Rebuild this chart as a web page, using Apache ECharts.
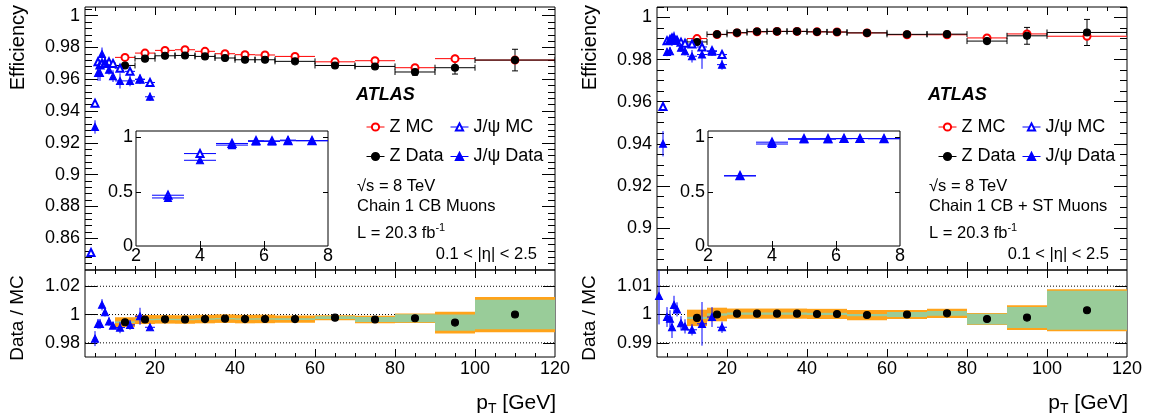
<!DOCTYPE html>
<html><head><meta charset="utf-8">
<script src="https://cdn.jsdelivr.net/npm/echarts@6/dist/echarts.min.js"></script>
<style>html,body{margin:0;padding:0;background:#fff}#c{width:1153px;height:419px}</style>
</head><body><div id="c"></div>
<script>
// ---------------- DATA ----------------
const zPt = [12.5,17.5,22.5,27.5,32.5,37.5,42.5,47.5,55,65,75,85,95,110];
const zLo = [10,15,20,25,30,35,40,45,50,60,70,80,90,100];
const zHi = [15,20,25,30,35,40,45,50,60,70,80,90,100,120];
const jpsiPt = [4,5,5.75,6.25,6.75,7.5,8.5,9.5,11.25,13.75,16.25,18.75];
const jpsiLo = [3.5,4.5,5.5,6,6.5,7,8,9,10,12.5,15,17.5];
const jpsiHi = [4.5,5.5,6,6.5,7,8,9,10,12.5,15,17.5,20];
const insetPt = [3,4,5,5.75,6.25,6.75,7.5];
const insetLo = [2.5,3.5,4.5,5.5,6,6.5,7];
const insetHi = [3.5,4.5,5.5,6,6.5,7,8];

// Left panel: Chain 1 CB Muons
const cbZMC      = [0.9738,0.9765,0.9782,0.9786,0.9776,0.9761,0.9755,0.9753,0.9744,0.9710,0.9717,0.9673,0.9730,0.9721];
const cbZMCErr   = [0.0006,0.0005,0.0004,0.0004,0.0004,0.0004,0.0005,0.0005,0.0005,0.0008,0.0010,0.0015,0.0026,0.0020];
const cbZData    = [0.9687,0.9730,0.9748,0.9750,0.9744,0.9734,0.9723,0.9723,0.9713,0.9687,0.9681,0.9646,0.9673,0.9721];
const cbZDataErr = [0.0012,0.0008,0.0005,0.0005,0.0005,0.0005,0.0006,0.0006,0.0007,0.0010,0.0015,0.0020,0.0040,0.0068];
const cbJpsiMC      = [0.851,0.945,0.971,0.969,0.970,0.970,0.971,0.970,0.967,0.965,0.960,0.958];
const cbJpsiMCErr   = [0.002,0.0015,0.0015,0.0015,0.0015,0.0015,0.0015,0.0015,0.0015,0.002,0.002,0.002];
const cbJpsiData    = [null,0.930,0.964,0.964,0.976,0.971,0.966,0.962,0.959,0.959,0.960,0.949];
const cbJpsiDataErr = [0,0.0042,0.005,0.005,0.004,0.003,0.003,0.0037,0.0048,0.0034,0.003,0.0026];
const cbZRatio   = [0.9946,0.9965,0.9966,0.9965,0.9968,0.9971,0.9968,0.9969,0.9968,0.9978,0.9965,0.9974,0.9943,1.0000];
const cbBandTot  = [0.0035,0.0032,0.0030,0.0030,0.0030,0.0030,0.0030,0.0030,0.0026,0.0018,0.0027,0.0033,0.0077,0.0125];
const cbBandStat = [0.0006,0.0005,0.0005,0.0005,0.0005,0.0005,0.0005,0.0005,0.0006,0.0010,0.0018,0.0028,0.0057,0.0104];
const cbJpsiRatioPt  = [5,5.75,6.25,6.75,7.5,8.5,9.5,11.25,13.75,16.25,18.75];
const cbJpsiRatioLo  = [4.5,5.5,6,6.5,7,8,9,10,12.5,15,17.5];
const cbJpsiRatioHi  = [5.5,6,6.5,7,8,9,10,12.5,15,17.5,20];
const cbJpsiRatio    = [0.983,0.9934,0.9934,1.0069,1.0016,0.9951,0.9922,0.9908,0.9927,0.9988,0.9910];
const cbJpsiRatioErr = [0.0053,0.0035,0.0035,0.004,0.003,0.003,0.0025,0.004,0.0035,0.006,0.0022];
const cbInsetMC   = [0.468,0.852,0.945,0.971,0.969,0.970,0.970];
const cbInsetData = [0.443,0.790,0.930,0.964,0.964,0.976,0.971];

// Right panel: Chain 1 CB + ST Muons
const stZMC      = [0.9900,0.9919,0.9927,0.9932,0.9934,0.9934,0.9932,0.9931,0.9927,0.9918,0.9918,0.9903,0.9922,0.9911];
const stZMCErr   = [0.0004,0.0003,0.0003,0.0003,0.0003,0.0003,0.0003,0.0003,0.0003,0.0005,0.0006,0.0008,0.0010,0.0012];
const stZData    = [0.9884,0.9920,0.9928,0.9933,0.9934,0.9934,0.9932,0.9931,0.9927,0.9920,0.9921,0.9888,0.9913,0.9929];
const stZDataErr = [0.0008,0.0004,0.0003,0.0003,0.0003,0.0003,0.0003,0.0004,0.0004,0.0006,0.0008,0.0012,0.0040,0.0062];
const stJpsiMC      = [0.9577,0.9890,0.9896,0.9903,0.9898,0.9892,0.9883,0.9878,0.9874,0.9860,0.9842,0.9824];
const stJpsiMCErr   = [0.0015,0.001,0.001,0.001,0.001,0.001,0.001,0.001,0.0012,0.0015,0.0015,0.0015];
const stJpsiData    = [0.9400,0.9836,0.9840,0.9890,0.9908,0.9890,0.9856,0.9840,0.9816,0.9824,0.9838,0.9776];
const stJpsiDataErr = [0.006,0.002,0.002,0.0025,0.0025,0.002,0.002,0.002,0.003,0.0068,0.002,0.0024];
const stZRatio   = [0.9988,1.0000,1.0003,1.0003,1.0003,1.0003,1.0002,1.0002,0.9998,1.0000,1.0004,0.9984,0.9989,1.0015];
const stBandTot  = [0.0029,0.0024,0.0018,0.0018,0.0018,0.0018,0.0018,0.0018,0.0018,0.0016,0.0016,0.0021,0.0044,0.0074];
const stBandStat = [0.0004,0.0004,0.0004,0.0004,0.0004,0.0004,0.0004,0.0004,0.0004,0.0009,0.0008,0.0019,0.0037,0.0069];
const stJpsiRatioPt  = [3,5,5.75,6.25,6.75,7.5,8.5,9.5,11.25,13.75,16.25,18.75];
const stJpsiRatioLo  = [2.5,4.5,5.5,6,6.5,7,8,9,10,12.5,15,17.5];
const stJpsiRatioHi  = [3.5,5.5,6,6.5,7,8,9,10,12.5,15,17.5,20];
const stJpsiRatio    = [1.0065,0.9991,0.9985,0.9955,1.0034,1.0018,0.9969,0.9958,0.9946,0.9967,0.9991,0.9955];
const stJpsiRatioErr = [0.010,0.0035,0.003,0.0038,0.0032,0.0025,0.0025,0.0025,0.002,0.0077,0.0035,0.002];
const stInsetMC   = [0.648,0.957,0.989,0.9896,0.9903,0.9898,0.9892];
const stInsetData = [0.646,0.940,0.9836,0.984,0.989,0.9908,0.989];

// Tick labels
const xTickLabels   = [20,40,60,80,100,120];
const xMajorTicks   = [20,40,60,80,100];
const xMinorTicks   = [5,10,15,25,30,35,45,50,55,65,70,75,85,90,95,105,110,115];
const cbYLabels     = [0.86,0.88,0.9,0.92,0.94,0.96,0.98,1];
const stYLabels     = [0.9,0.92,0.94,0.96,0.98,1];
const cbRatioLabels = [0.98,1,1.02];
const stRatioLabels = [0.99,1,1.01];
const insetXLabels  = [2,4,6,8];
const insetYLabels  = [0,0.5,1];

// ---------------- BUILD ----------------
const FONT = '"Liberation Sans", Arial, Helvetica, sans-serif';
const grids = [], xAxes = [], yAxes = [], series = [], legends = [], graphics = [];

function minorTicks(lo, hi, step, major) {
  const out = [];
  for (let v = lo; v <= hi + 1e-9; v += step) {
    const r = +v.toFixed(4);
    if (Math.abs(r / major - Math.round(r / major)) > 1e-6) out.push(r);
  }
  return out;
}
function mkAxis(gi, pos, range, ticks, len, labels, margin) {
  return {
    type: 'value', gridIndex: gi, position: pos, min: range[0], max: range[1],
    axisLine: { show: false }, splitLine: { show: false },
    axisTick: { show: ticks.length > 0, inside: true, length: len, customValues: ticks, lineStyle: { color: '#000', width: 1 } },
    axisLabel: labels ? { show: true, customValues: labels, color: '#000', fontSize: 18, fontFamily: FONT, margin: margin,
      formatter: v => String(+(+v).toFixed(4)) } : { show: false }
  };
}
function frame(grid, xr, yr, o) {
  const gi = grids.length;
  grids.push(Object.assign({ show: true, borderColor: '#000', borderWidth: 1, backgroundColor: o.bg || 'rgba(0,0,0,0)' }, grid));
  const xi = xAxes.length, yi = yAxes.length;
  xAxes.push(mkAxis(gi, 'bottom', xr, o.xMaj, o.lxMaj, o.xLab, o.xm));
  xAxes.push(mkAxis(gi, 'top', xr, o.xMaj, o.lxMaj, null));
  if (o.xMin) { xAxes.push(mkAxis(gi, 'bottom', xr, o.xMin, o.lxMin, null)); xAxes.push(mkAxis(gi, 'top', xr, o.xMin, o.lxMin, null)); }
  yAxes.push(mkAxis(gi, 'left', yr, o.yMaj, o.lyMaj, o.yLab, o.ym));
  yAxes.push(mkAxis(gi, 'right', yr, o.yMaj, o.lyMaj, null));
  if (o.yMin) { yAxes.push(mkAxis(gi, 'left', yr, o.yMin, o.lyMin, null)); yAxes.push(mkAxis(gi, 'right', yr, o.yMin, o.lyMin, null)); }
  return { xi, yi };
}

function errSeries(ax, color, rows, caps) {
  return {
    type: 'custom', xAxisIndex: ax.xi, yAxisIndex: ax.yi, clip: true, silent: true, data: rows, encode: { x: 0, y: 1 },
    renderItem: function (params, api) {
      const x = api.value(0), y = api.value(1), lo = api.value(2), hi = api.value(3), e = api.value(4);
      const a = api.coord([lo, y]), b = api.coord([hi, y]), t = api.coord([x, y + e]), d = api.coord([x, y - e]);
      const st = { stroke: color, lineWidth: 1 };
      const ch = [
        { type: 'line', shape: { x1: a[0], y1: a[1], x2: b[0], y2: b[1] }, style: st },
        { type: 'line', shape: { x1: t[0], y1: t[1], x2: d[0], y2: d[1] }, style: st }
      ];
      if (caps) {
        ch.push({ type: 'line', shape: { x1: a[0], y1: a[1] - 3, x2: a[0], y2: a[1] + 3 }, style: st });
        ch.push({ type: 'line', shape: { x1: b[0], y1: b[1] - 3, x2: b[0], y2: b[1] + 3 }, style: st });
        if (d[1] - t[1] > 6) {
          ch.push({ type: 'line', shape: { x1: t[0] - 3, y1: t[1], x2: t[0] + 3, y2: t[1] }, style: st });
          ch.push({ type: 'line', shape: { x1: d[0] - 3, y1: d[1], x2: d[0] + 3, y2: d[1] }, style: st });
        }
      }
      return { type: 'group', children: ch };
    }
  };
}
function markerSeries(ax, name, symbol, color, size, pts) {
  return {
    type: 'line', name: name, xAxisIndex: ax.xi, yAxisIndex: ax.yi, data: pts, symbol: symbol, symbolSize: size,
    showSymbol: true, showAllSymbol: true, silent: true, lineStyle: { opacity: 0 },
    itemStyle: { color: color, borderColor: color, borderWidth: 1.1 }, z: 5
  };
}
function bandSeries(ax, color, rows, minH) {
  return {
    type: 'custom', xAxisIndex: ax.xi, yAxisIndex: ax.yi, clip: true, silent: true, data: rows, encode: { x: [0, 1], y: 2 },
    renderItem: function (params, api) {
      const lo = api.value(0), hi = api.value(1), c = api.value(2), h = api.value(3);
      const p1 = api.coord([lo, c + h]), p2 = api.coord([hi, c - h]);
      let y = p1[1], hgt = p2[1] - p1[1];
      if (hgt < minH) { y = (p1[1] + p2[1]) / 2 - minH / 2; hgt = minH; }
      return { type: 'rect', shape: { x: p1[0], y: y, width: p2[0] - p1[0], height: hgt }, style: { fill: color } };
    }
  };
}
function refLineSeries(ax, levels) {
  return {
    type: 'custom', xAxisIndex: ax.xi, yAxisIndex: ax.yi, silent: true, data: levels.map(v => [10, v]), encode: { x: 0, y: 1 },
    renderItem: function (params, api) {
      const cs = params.coordSys; const y = api.coord([10, api.value(1)])[1];
      return { type: 'line', shape: { x1: cs.x, y1: y, x2: cs.x + cs.width, y2: y }, style: { stroke: '#000', lineWidth: 1, lineDash: [1, 2] } };
    }
  };
}
const rows = (pt, lo, hi, v, e) => pt.map((x, i) => [x, v[i], lo[i], hi[i], e ? e[i] : 0]).filter(r => r[1] !== null);
const pts = (pt, v) => pt.map((x, i) => [x, v[i]]).filter(r => r[1] !== null);

function panel(P, ox) {
  // main
  const m = frame({ left: 85 + ox, top: 7, width: 470, height: 263 }, [2.5, 120], P.yMain, {
    xMaj: xMajorTicks, xMin: xMinorTicks, lxMaj: 8, lxMin: 4,
    yMaj: P.yLabels, yMin: minorTicks(P.yMain[0], P.yMain[1], P.yMinorStep, 0.02), lyMaj: 13, lyMin: 7,
    yLab: P.yLabels, ym: 5
  });
  series.push(errSeries(m, '#ff0000', rows(zPt, zLo, zHi, P.zMC, P.zMCErr), false));
  series.push(markerSeries(m, 'Z MC', 'emptyCircle', '#ff0000', 7, pts(zPt, P.zMC)));
  series.push(errSeries(m, '#000000', rows(zPt, zLo, zHi, P.zData, P.zDataErr), true));
  series.push(markerSeries(m, 'Z Data', 'circle', '#000000', 7, pts(zPt, P.zData)));
  series.push(errSeries(m, '#0000ff', rows(jpsiPt, jpsiLo, jpsiHi, P.jMC, P.jMCErr), false));
  series.push(markerSeries(m, 'J/ψ MC', 'emptyTriangle', '#0000ff', 7, pts(jpsiPt, P.jMC)));
  series.push(errSeries(m, '#0000ff', rows(jpsiPt, jpsiLo, jpsiHi, P.jData, P.jDataErr), false));
  series.push(markerSeries(m, 'J/ψ Data', 'triangle', '#0000ff', 7, pts(jpsiPt, P.jData)));

  // ratio
  const r = frame({ left: 85 + ox, top: 270, width: 470, height: 87 }, [2.5, 120], P.yRatio, {
    xMaj: xMajorTicks, xMin: xMinorTicks, lxMaj: 8, lxMin: 4, xLab: xTickLabels, xm: 3,
    yMaj: P.rLabels, lyMaj: 12, yLab: P.rLabels, ym: 5
  });
  series.push(refLineSeries(r, P.rLabels));
  series.push(bandSeries(r, '#ffa31a', zLo.map((lo, i) => [lo, zHi[i], P.zRatio[i], P.bandTot[i]]), 1));
  series.push(bandSeries(r, '#99cc99', zLo.map((lo, i) => [lo, zHi[i], P.zRatio[i], P.bandStat[i]]), 1.4));
  series.push(errSeries(r, '#0000ff', rows(P.jrPt, P.jrLo, P.jrHi, P.jRatio, P.jRatioErr), false));
  series.push(markerSeries(r, 'jr', 'triangle', '#0000ff', 7, pts(P.jrPt, P.jRatio)));
  series.push(markerSeries(r, 'zr', 'circle', '#000000', 7, pts(zPt, P.zRatio)));

  // inset
  const n = frame({ left: 136 + ox, top: 131, width: 192, height: 115 }, [2, 8], [0, 1.06], {
    bg: '#ffffff', xMaj: [4, 6], lxMaj: 5, xLab: insetXLabels, xm: 1,
    yMaj: [0.5, 1], lyMaj: 5, yLab: insetYLabels, ym: 3
  });
  series.push(errSeries(n, '#0000ff', rows(insetPt, insetLo, insetHi, P.iMC, null), false));
  series.push(markerSeries(n, 'imc', 'emptyTriangle', '#0000ff', 7, pts(insetPt, P.iMC)));
  series.push(errSeries(n, '#0000ff', rows(insetPt, insetLo, insetHi, P.iData, null), false));
  series.push(markerSeries(n, 'idata', 'triangle', '#0000ff', 7, pts(insetPt, P.iData)));

  // legends
  const lg = (left, items) => ({
    orient: 'vertical', left: left, top: 112, itemWidth: 18, itemHeight: 9, itemGap: 9.5, selectedMode: false,
    textStyle: { fontSize: 18, fontFamily: FONT, color: '#000', lineHeight: 20 },
    lineStyle: { opacity: 1, width: 1 },
    data: items.map(it => ({ name: it[0], lineStyle: { color: it[1], opacity: 1, width: 1 } }))
  });
  legends.push(lg(361 + ox, [['Z MC', '#ff0000'], ['Z Data', '#000000']]));
  legends.push(lg(445 + ox, [['J/ψ MC', '#0000ff'], ['J/ψ Data', '#0000ff']]));

  // texts
  const txt = (x, y, s, font, align) => ({ type: 'text', x: x, y: y, silent: true,
    style: { text: s, font: font, fill: '#000', align: align || 'left', verticalAlign: 'middle' } });
  graphics.push(txt(356 + ox, 95, 'ATLAS', 'italic bold 18px ' + FONT));
  graphics.push(txt(357 + ox, 186, '√s = 8 TeV', '16.5px ' + FONT));
  graphics.push(txt(357 + ox, 206, P.chain, '16.5px ' + FONT));
  graphics.push({ type: 'text', x: 357 + ox, y: 232, silent: true, style: {
    text: '{a|L = 20.3 fb}{s|-1}', verticalAlign: 'middle', align: 'left',
    rich: { a: { fontSize: 16.5, fontFamily: FONT, lineHeight: 20, verticalAlign: 'bottom', fill: '#000' },
            s: { fontSize: 11, fontFamily: FONT, lineHeight: 11, verticalAlign: 'top', fill: '#000' } } } });
  graphics.push(txt(537 + ox, 254, '0.1 < |η| < 2.5', '16.5px ' + FONT, 'right'));
  graphics.push({ type: 'text', x: 18 + ox, y: 5, rotation: Math.PI / 2, silent: true,
    style: { text: 'Efficiency', font: '20px ' + FONT, fill: '#000', align: 'right', verticalAlign: 'middle' } });
  graphics.push({ type: 'text', x: 18 + ox, y: 318, rotation: Math.PI / 2, silent: true,
    style: { text: 'Data / MC', font: '19px ' + FONT, fill: '#000', align: 'center', verticalAlign: 'middle' } });
  graphics.push({ type: 'text', x: 556 + ox, y: 403, silent: true, style: {
    text: '{p|p}{t|T}{g| [GeV]}', align: 'right', verticalAlign: 'middle',
    rich: { p: { fontSize: 21, fontFamily: FONT, lineHeight: 26, verticalAlign: 'middle', fill: '#000' },
            t: { fontSize: 14, fontFamily: FONT, lineHeight: 12, verticalAlign: 'bottom', fill: '#000' },
            g: { fontSize: 21, fontFamily: FONT, lineHeight: 26, verticalAlign: 'middle', fill: '#000' } } } });
}

panel({
  yMain: [0.84, 1.0055], yLabels: cbYLabels, yMinorStep: 0.004,
  zMC: cbZMC, zMCErr: cbZMCErr, zData: cbZData, zDataErr: cbZDataErr,
  jMC: cbJpsiMC, jMCErr: cbJpsiMCErr, jData: cbJpsiData, jDataErr: cbJpsiDataErr,
  yRatio: [0.97, 1.0315], rLabels: cbRatioLabels, zRatio: cbZRatio, bandTot: cbBandTot, bandStat: cbBandStat,
  jrPt: cbJpsiRatioPt, jrLo: cbJpsiRatioLo, jrHi: cbJpsiRatioHi, jRatio: cbJpsiRatio, jRatioErr: cbJpsiRatioErr,
  iMC: cbInsetMC, iData: cbInsetData, chain: 'Chain 1 CB Muons'
}, 0);
panel({
  yMain: [0.88, 1.005], yLabels: stYLabels, yMinorStep: 0.005,
  zMC: stZMC, zMCErr: stZMCErr, zData: stZData, zDataErr: stZDataErr,
  jMC: stJpsiMC, jMCErr: stJpsiMCErr, jData: stJpsiData, jDataErr: stJpsiDataErr,
  yRatio: [0.985, 1.0157], rLabels: stRatioLabels, zRatio: stZRatio, bandTot: stBandTot, bandStat: stBandStat,
  jrPt: stJpsiRatioPt, jrLo: stJpsiRatioLo, jrHi: stJpsiRatioHi, jRatio: stJpsiRatio, jRatioErr: stJpsiRatioErr,
  iMC: stInsetMC, iData: stInsetData, chain: 'Chain 1 CB + ST Muons'
}, 572);

const chart = echarts.init(document.getElementById('c'), null, { renderer: 'canvas' });
chart.setOption({
  animation: false, backgroundColor: '#ffffff',
  grid: grids, xAxis: xAxes, yAxis: yAxes, series: series, legend: legends, graphic: graphics
});
</script></body></html>
